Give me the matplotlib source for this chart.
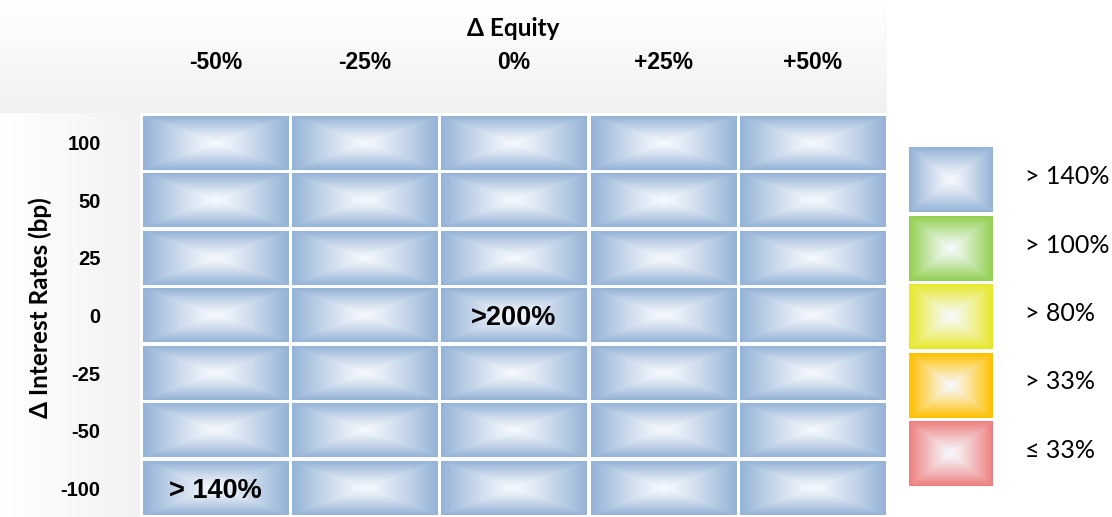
import numpy as np
import matplotlib.pyplot as plt
import matplotlib.colors as mcolors

# Data
equity = ["-50%", "-25%", "0%", "+25%", "+50%"]
rates = ["100", "50", "25", "0", "-25", "-50", "-100"]
bands = ["> 140%", "> 100%", "> 80%", "> 33%", "\u2264 33%"]
band_colors = ["#95b3d7", "#92d050", "#e8e82a", "#ffc000", "#ee7f7f"]
# band index of every cell (rows = rates, cols = equity)
cell_band = [[0, 0, 0, 0, 0] for _ in rates]
notes = [(3, 2, ">200%"), (6, 0, "> 140%")]

W, H = 1112, 517


def box_gradient(color, nx=160, ny=60):
    # rectangular "from centre" gradient: near white in the middle, colour at the edges
    c = np.array(mcolors.to_rgb(color))
    centre = np.array([0.97, 0.98, 0.995])
    x = np.linspace(-1, 1, nx)
    y = np.linspace(-1, 1, ny)
    t = np.maximum(np.abs(x)[None, :], np.abs(y)[:, None]) ** 1.15
    return centre + (c - centre) * t[..., None]


fig = plt.figure(figsize=(W / 100, H / 100), dpi=100)

# background panels (header band and row label band)
bg = fig.add_axes([0, 0, 1, 1])
bg.set_xlim(0, W)
bg.set_ylim(H, 0)
bg.axis("off")
v = np.linspace(1.0, 0.945, 50)[:, None, None] * np.ones((1, 2, 3))
bg.imshow(v, extent=(0, 887, 113, 0), aspect="auto", interpolation="bilinear")
h = np.linspace(1.0, 0.95, 50)[None, :, None] * np.ones((2, 1, 3))
bg.imshow(h, extent=(0, 140, H, 113), aspect="auto", interpolation="bilinear")
bg.set_xlim(0, W)
bg.set_ylim(H, 0)

# heatmap grid
top, left = 114, 141
ax = fig.add_axes([left / W, 0, 746 / W, (H - top) / H])
gx, gy = 0.014, 0.035
for i in range(len(rates)):
    for j in range(len(equity)):
        img = box_gradient(band_colors[cell_band[i][j]])
        ax.imshow(img, extent=(j + gx, j + 1 - gx, i + 1 - gy, i + gy),
                  aspect="auto", interpolation="bilinear")
for i, j, txt in notes:
    ax.text(j + 0.5, i + 0.55, txt, ha="center", va="center",
            fontsize=19.5, fontweight="bold", family="Liberation Sans")
ax.set_xlim(0, len(equity))
ax.set_ylim(len(rates), 0)
ax.xaxis.tick_top()
ax.set_xticks(np.arange(len(equity)) + 0.5)
ax.set_xticklabels(equity, fontsize=16.5, fontweight="bold", family="Liberation Sans")
ax.set_yticks(np.arange(len(rates)) + 0.5)
ax.set_yticklabels(rates, fontsize=14.5, fontweight="bold", family="Liberation Sans")
ax.tick_params(axis="x", length=0, pad=29)
ax.tick_params(axis="y", length=0, pad=29)
for s in ax.spines.values():
    s.set_visible(False)

fig.text(513 / W, 1 - 29 / H, "\u0394 Equity", ha="center", va="center",
         fontsize=17.5, fontweight="bold", family="Lato")
fig.text(40 / W, 1 - 308 / H, "\u0394 Interest Rates (bp)", ha="center", va="center",
         rotation=90, fontsize=17.5, fontweight="bold", family="Lato")

# legend
lax = fig.add_axes([909 / W, 1 - 488 / H, 84 / W, (488 - 146) / H])
for k, col in enumerate(band_colors):
    lax.imshow(box_gradient(col, 80, 60), extent=(0, 1, k + 0.97, k + 0.03),
               aspect="auto", interpolation="bilinear")
    lax.text(1.38, k + 0.45, bands[k], ha="left", va="center",
             fontsize=18, family="Lato", clip_on=False)
lax.set_xlim(0, 1)
lax.set_ylim(len(bands), 0)
lax.axis("off")

fig.savefig("out.png", dpi=100)
